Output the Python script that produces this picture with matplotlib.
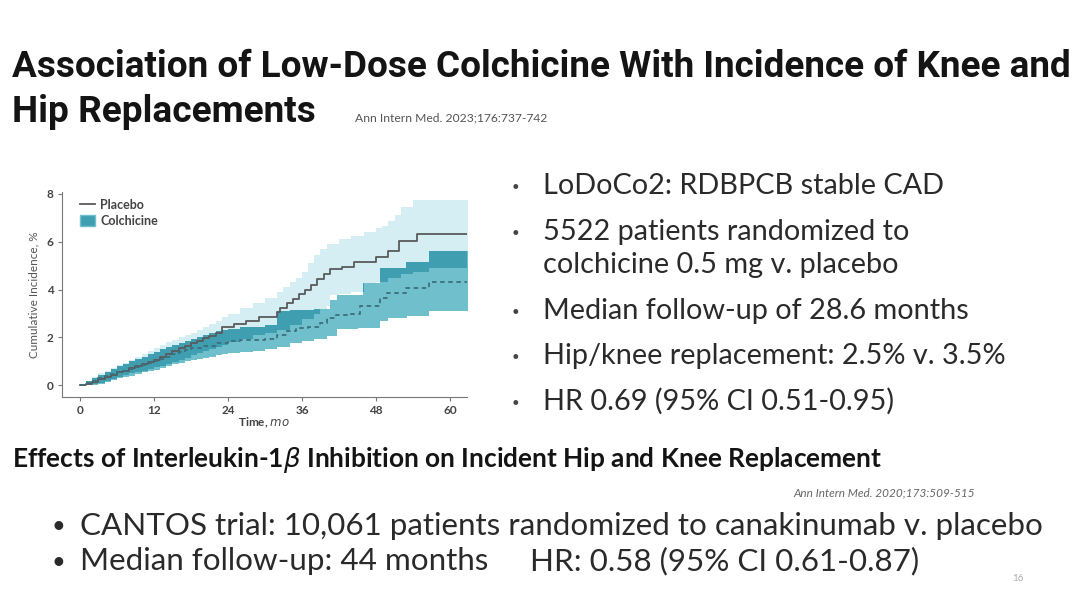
import numpy as np
import matplotlib
matplotlib.use("Agg")
import matplotlib.pyplot as plt
from matplotlib import font_manager
from matplotlib.lines import Line2D
from matplotlib.patches import Patch

# ---------------- data ----------------
placebo_t = [0, 1, 2, 3, 4, 5, 6, 7, 8, 9, 10, 11, 12, 13, 14, 15, 16, 17, 18, 19, 20, 21, 22, 23,
             25, 27, 29, 31.9, 32.5, 33.5, 34.5, 35.5, 36.5, 37.5, 38.5, 39.5, 40.5, 42.5, 44.5,
             48, 50, 51.7, 54.6, 63]
placebo_v = [0, 0.05, 0.15, 0.25, 0.35, 0.45, 0.55, 0.62, 0.72, 0.8, 0.88, 0.97, 1.07, 1.18, 1.3,
             1.42, 1.55, 1.65, 1.76, 1.86, 1.97, 2.07, 2.18, 2.45, 2.55, 2.7, 2.87, 3.08, 3.25,
             3.42, 3.6, 3.8, 4.0, 4.2, 4.45, 4.65, 4.85, 4.95, 5.15, 5.36, 5.6, 6.03, 6.3, 6.3]

colch_t = [0, 1, 2, 3, 4, 5, 6, 7, 8, 9, 10, 11, 12, 13, 14, 15, 16, 17, 18, 20, 22, 24, 26, 28,
           30, 32, 33.5, 35, 37, 38.9, 40, 41.5, 44, 45.4, 48.6, 49.7, 52.9, 56.6, 63]
colch_v = [0, 0.1, 0.2, 0.3, 0.4, 0.48, 0.55, 0.62, 0.7, 0.78, 0.85, 0.93, 1.0, 1.1, 1.2, 1.3,
           1.4, 1.48, 1.55, 1.65, 1.75, 1.85, 1.9, 1.9, 1.95, 2.1, 2.25, 2.4, 2.45, 2.6, 2.8,
           2.95, 3.0, 3.3, 3.63, 3.84, 4.05, 4.33, 4.33]

placebo_hi_t = [0, 1, 2, 3, 4, 5, 6, 7, 8, 9, 10, 11, 12, 13, 14, 15, 16, 17, 18, 19, 20, 21, 22,
                23, 24, 26, 28, 30, 32, 33, 34, 35, 36, 37, 38, 39, 40, 42, 44, 46, 48, 49, 50,
                51, 52, 54, 63]
placebo_hi_v = [0, 0.2, 0.35, 0.5, 0.6, 0.72, 0.85, 0.95, 1.05, 1.18, 1.3, 1.42, 1.55, 1.67, 1.8,
                1.9, 2.0, 2.1, 2.2, 2.32, 2.45, 2.57, 2.7, 2.85, 3.0, 3.25, 3.45, 3.65, 3.9, 4.1,
                4.3, 4.5, 4.75, 5.1, 5.45, 5.7, 5.9, 6.1, 6.25, 6.4, 6.55, 6.65, 6.85, 7.1, 7.45,
                7.72, 7.72]
placebo_lo_t = [0, 1, 2, 3, 4, 5, 6, 7, 8, 9, 10, 11, 12, 13, 14, 15, 16, 17, 18, 19, 20, 21, 22,
                23, 24, 26, 28, 30, 32, 34, 36, 38, 40, 40.5, 42, 44, 46, 48, 50, 52, 54, 56.6, 63]
placebo_lo_v = [0, 0, 0.05, 0.12, 0.2, 0.28, 0.35, 0.42, 0.5, 0.56, 0.62, 0.68, 0.75, 0.82, 0.9,
                0.97, 1.05, 1.15, 1.25, 1.35, 1.45, 1.52, 1.6, 1.7, 1.8, 1.95, 2.1, 2.2, 2.3, 2.5,
                2.75, 3.0, 3.3, 3.77, 3.8, 3.9, 4.1, 4.3, 4.5, 4.65, 4.75, 4.88, 4.88]

colch_hi_t = [0, 1, 2, 3, 4, 5, 6, 7, 8, 9, 10, 11, 12, 13, 14, 15, 16, 17, 18, 19, 20, 21, 22,
              23, 24, 26, 28, 30, 31.9, 34, 36, 38, 40.5, 41.6, 45.9, 48.6, 52.9, 56.6, 63]
colch_hi_v = [0, 0.18, 0.3, 0.42, 0.55, 0.68, 0.8, 0.9, 1.0, 1.1, 1.2, 1.3, 1.4, 1.5, 1.6, 1.68,
              1.75, 1.85, 1.95, 2.02, 2.1, 2.18, 2.25, 2.3, 2.35, 2.45, 2.45, 2.5, 3.1, 3.15,
              3.15, 3.2, 3.55, 3.77, 4.26, 4.88, 5.16, 5.6, 5.6]
colch_lo_t = [0, 1, 2, 3, 4, 5, 6, 7, 8, 9, 10, 11, 12, 13, 14, 15, 16, 17, 18, 19, 20, 21, 22,
              23, 24, 26, 28, 30, 32, 34, 36, 38, 40, 41.6, 45, 48.6, 50, 53, 56.6, 63]
colch_lo_v = [0, 0, 0, 0.08, 0.15, 0.22, 0.3, 0.35, 0.4, 0.48, 0.55, 0.6, 0.65, 0.72, 0.8, 0.88,
              0.95, 1.0, 1.05, 1.1, 1.15, 1.2, 1.25, 1.3, 1.35, 1.4, 1.45, 1.5, 1.6, 1.75, 1.85,
              1.95, 2.05, 2.35, 2.4, 2.7, 2.8, 2.9, 3.12, 3.12]

x_ticks = [0, 12, 24, 36, 48, 60]
y_ticks = [0, 2, 4, 6, 8]
legend_labels = ["Placebo", "Colchicine"]

title_lines = ["Association of Low-Dose Colchicine With Incidence of Knee and",
               "Hip Replacements"]
citation1 = "Ann Intern Med. 2023;176:737-742"
right_bullets = ["LoDoCo2: RDBPCB stable CAD",
                 "5522 patients randomized to",
                 "colchicine 0.5 mg v. placebo",
                 "Median follow-up of 28.6 months",
                 "Hip/knee replacement: 2.5% v. 3.5%",
                 "HR 0.69 (95% CI 0.51-0.95)"]
right_has_bullet = [True, True, False, True, True, True]
subtitle = r"Effects of Interleukin-1$\beta$ Inhibition on Incident Hip and Knee Replacement"
citation2 = "Ann Intern Med. 2020;173:509-515"
bottom_bullets = ["CANTOS trial: 10,061 patients randomized to canakinumab v. placebo",
                  "Median follow-up: 44 months"]
bottom_hr = "HR: 0.58 (95% CI 0.61-0.87)"
page_no = "16"

# ---------------- fonts ----------------
def have(fam):
    try:
        font_manager.findfont(font_manager.FontProperties(family=fam), fallback_to_default=False)
        return True
    except Exception:
        return False

narrow = "Liberation Sans Narrow" if have("Liberation Sans Narrow") else "Roboto"
body = "Lato" if have("Lato") else "DejaVu Sans"

W, H = 1074, 602
fig = plt.figure(figsize=(W / 100, H / 100), dpi=100)
fig.patch.set_facecolor("white")
renderer = fig.canvas.get_renderer()


def fit_text(s, x0, x1, ybase, ref=20, **kw):
    t = fig.text(x0 / W, 1 - ybase / H, s, ha="left", va="baseline", fontsize=ref, **kw)
    bb = t.get_window_extent(renderer)
    t.set_fontsize(ref * (x1 - x0) / bb.width)
    return t


def fs_for(s, width, ref=20, **kw):
    t = fig.text(0, 0, s, fontsize=ref, **kw)
    bb = t.get_window_extent(renderer)
    t.remove()
    return ref * width / bb.width


# ---------------- titles ----------------
fit_text(title_lines[0], 12, 1068, 77, family=[narrow, "DejaVu Sans"], weight="bold", color="#141414")
fit_text(title_lines[1], 12, 315, 122, family=[narrow, "DejaVu Sans"], weight="bold", color="#141414")
fit_text(citation1, 355, 548, 121, family=[body], color="#555555")

# right bullets
fsr = fs_for(right_bullets[4], 1007 - 543, family=[body], color="#2a2a2a")
right_base = [194, 240, 273, 319, 364, 410]
for s, yb, b in zip(right_bullets, right_base, right_has_bullet):
    fig.text(543 / W, 1 - yb / H, s, fontsize=fsr, family=[body], color="#2a2a2a",
             ha="left", va="baseline")
    if b:
        fig.text(515 / W, 1 - (yb - 7) / H, "•", fontsize=fsr * 0.45, family=[body],
                 color="#444444", ha="center", va="center")

# subtitle
fit_text(subtitle, 12, 880, 467, family=[body], weight="bold", color="#141414")
fit_text(citation2, 793, 975, 496, family=[body], style="italic", color="#666666")

# bottom bullets
fsb = fs_for(bottom_bullets[0], 1045 - 80, family=[body])
for s, yb in zip(bottom_bullets, [535, 570]):
    fig.text(80 / W, 1 - yb / H, s, fontsize=fsb, family=[body], color="#2a2a2a",
             ha="left", va="baseline")
    fig.text(58 / W, 1 - (yb - 8) / H, "•", fontsize=fsb * 0.75, family=[body],
             color="#2a2a2a", ha="center", va="center")
fig.text(530 / W, 1 - 570 / H, bottom_hr, fontsize=fsb, family=[body], color="#2a2a2a",
         ha="left", va="baseline")
fig.text(1012 / W, 1 - 581 / H, page_no, fontsize=7, family=[body], color="#aaaaaa",
         ha="left", va="baseline")

# ---------------- chart ----------------
ax = fig.add_axes([62 / W, 1 - 396.7 / H, (466.7 - 62) / W, (396.7 - 191.7) / H])
ax.set_xlim(-2.9, 62.7)
ax.set_ylim(-0.47, 8.08)


def step_at(tk, vk, grid):
    tk = np.asarray(tk, float)
    vk = np.asarray(vk, float)
    idx = np.clip(np.searchsorted(tk, grid, side="right") - 1, 0, len(vk) - 1)
    return vk[idx]


grid = np.unique(np.concatenate([placebo_hi_t, placebo_lo_t, colch_hi_t, colch_lo_t]))
pl_hi = step_at(placebo_hi_t, placebo_hi_v, grid)
pl_lo = step_at(placebo_lo_t, placebo_lo_v, grid)
co_hi = step_at(colch_hi_t, colch_hi_v, grid)
co_lo = step_at(colch_lo_t, colch_lo_v, grid)
ov_lo = np.maximum(pl_lo, co_lo)
ov_hi = np.minimum(pl_hi, co_hi)

c_light = "#d4eef4"
c_mid = "#70bfcd"
c_dark = "#3f9fb1"
ax.fill_between(grid, pl_lo, pl_hi, step="post", color=c_light, lw=0)
ax.fill_between(grid, co_lo, co_hi, step="post", color=c_mid, lw=0)
ax.fill_between(grid, ov_lo, ov_hi, where=ov_hi > ov_lo, step="post", color=c_dark, lw=0)

ax.step(placebo_t, placebo_v, where="post", color="#5a5a5a", lw=1.3)
ax.step(colch_t, colch_v, where="post", color="#3d6f7a", lw=1.3, dashes=(2.5, 2))

for sp in ["top", "right"]:
    ax.spines[sp].set_visible(False)
for sp in ["left", "bottom"]:
    ax.spines[sp].set_color("#777777")
    ax.spines[sp].set_linewidth(0.8)
ax.set_xticks(x_ticks)
ax.set_yticks(y_ticks)
ax.tick_params(length=3, width=0.8, color="#777777", labelsize=8.5, labelcolor="#444444", pad=3)
for lab in ax.get_xticklabels() + ax.get_yticklabels():
    lab.set_family(body)
    lab.set_fontweight("bold")
ax.set_xlabel(r"Time, $\mathit{mo}$", fontsize=8.5, family=body, weight="bold", color="#444444",
              labelpad=0)
ax.set_ylabel("Cumulative Incidence, %", fontsize=8.5, family=body, color="#555555", labelpad=5)

handles = [Line2D([0], [0], color="#5a5a5a", lw=1.3),
           Patch(facecolor=c_dark, edgecolor=c_mid)]
leg = ax.legend(handles, legend_labels, loc="upper left", bbox_to_anchor=(0.045, 0.965),
                frameon=False, handlelength=1.1, handleheight=0.8, handletextpad=0.35,
                labelspacing=0.3, borderaxespad=0, borderpad=0)
for t in leg.get_texts():
    t.set_family(body)
    t.set_fontweight("bold")
    t.set_fontsize(9)
    t.set_color("#444444")

fig.savefig("out.png", dpi=100, facecolor="white")
